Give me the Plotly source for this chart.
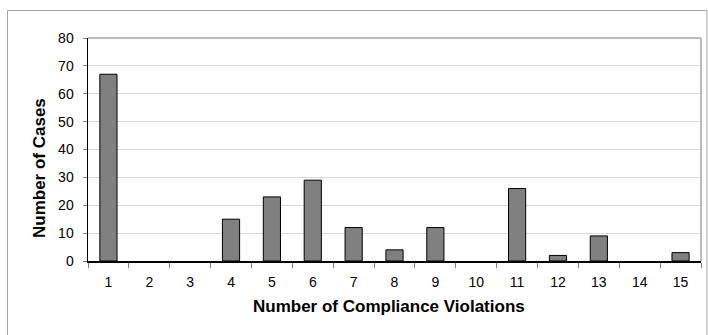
import plotly.graph_objects as go

categories = [str(i) for i in range(1, 16)]
cases = [67, 0, 0, 15, 23, 29, 12, 4, 12, 0, 26, 2, 9, 0, 3]
y_ticks = [0, 10, 20, 30, 40, 50, 60, 70, 80]

W, H = 708, 335
L, R, T, B = 88, 7, 38, 74
pw, ph = W - L - R, H - T - B

def px_x(x):
    return (x - L) / pw

def px_y(y):
    return (H - B - y) / ph

fig = go.Figure(go.Bar(
    x=categories, y=cases,
    marker=dict(color="#808080",
                line=dict(color="#000000", width=[1 if v > 0 else 0 for v in cases])),
    width=0.42,
))

fig.update_layout(
    width=W, height=H,
    margin=dict(l=L, r=R, t=T, b=B),
    paper_bgcolor="white", plot_bgcolor="white",
    showlegend=False,
    font=dict(family="Liberation Sans, Arial, sans-serif", color="#000000", size=14),
    shapes=[
        dict(type="rect", xref="paper", yref="paper",
             x0=px_x(7.5), x1=px_x(707), y0=px_y(345), y1=px_y(10.5),
             line=dict(color="#a6a6a6", width=1), layer="below"),
        dict(type="line", xref="paper", yref="paper", x0=0, x1=1, y0=1, y1=1,
             line=dict(color="#a6a6a6", width=1.5)),
        dict(type="line", xref="paper", yref="paper", x0=1, x1=1, y0=0, y1=1,
             line=dict(color="#a6a6a6", width=1.5)),
    ],
    annotations=[
        dict(text="<b>Number of Compliance Violations</b>", xref="paper", yref="paper",
             x=px_x(389), y=px_y(306), xanchor="center", yanchor="middle",
             showarrow=False, font=dict(size=17)),
        dict(text="<b>Number of Cases</b>", xref="paper", yref="paper",
             x=px_x(39), y=px_y(168), xanchor="center", yanchor="middle",
             textangle=-90, showarrow=False, font=dict(size=17)),
    ],
)

fig.update_xaxes(
    type="category", automargin=False,
    showline=True, linecolor="#000000", linewidth=1.5,
    ticks="outside", tickson="boundaries", ticklen=5, tickcolor="#808080",
    ticklabelstandoff=8,
    showgrid=False,
    tickfont=dict(size=14),
)
fig.update_yaxes(
    range=[0, 80], tickvals=y_ticks, automargin=False,
    showline=True, linecolor="#000000", linewidth=1.5,
    ticks="outside", ticklen=4, tickcolor="#808080",
    ticklabelstandoff=6,
    showgrid=True, gridcolor="#d9d9d9", gridwidth=1,
    zeroline=False,
    tickfont=dict(size=14),
)

fig.write_html("out.html",
               config={"displayModeBar": False, "staticPlot": True},
               post_script="document.body.style.margin='0';document.body.style.overflow='hidden';")
